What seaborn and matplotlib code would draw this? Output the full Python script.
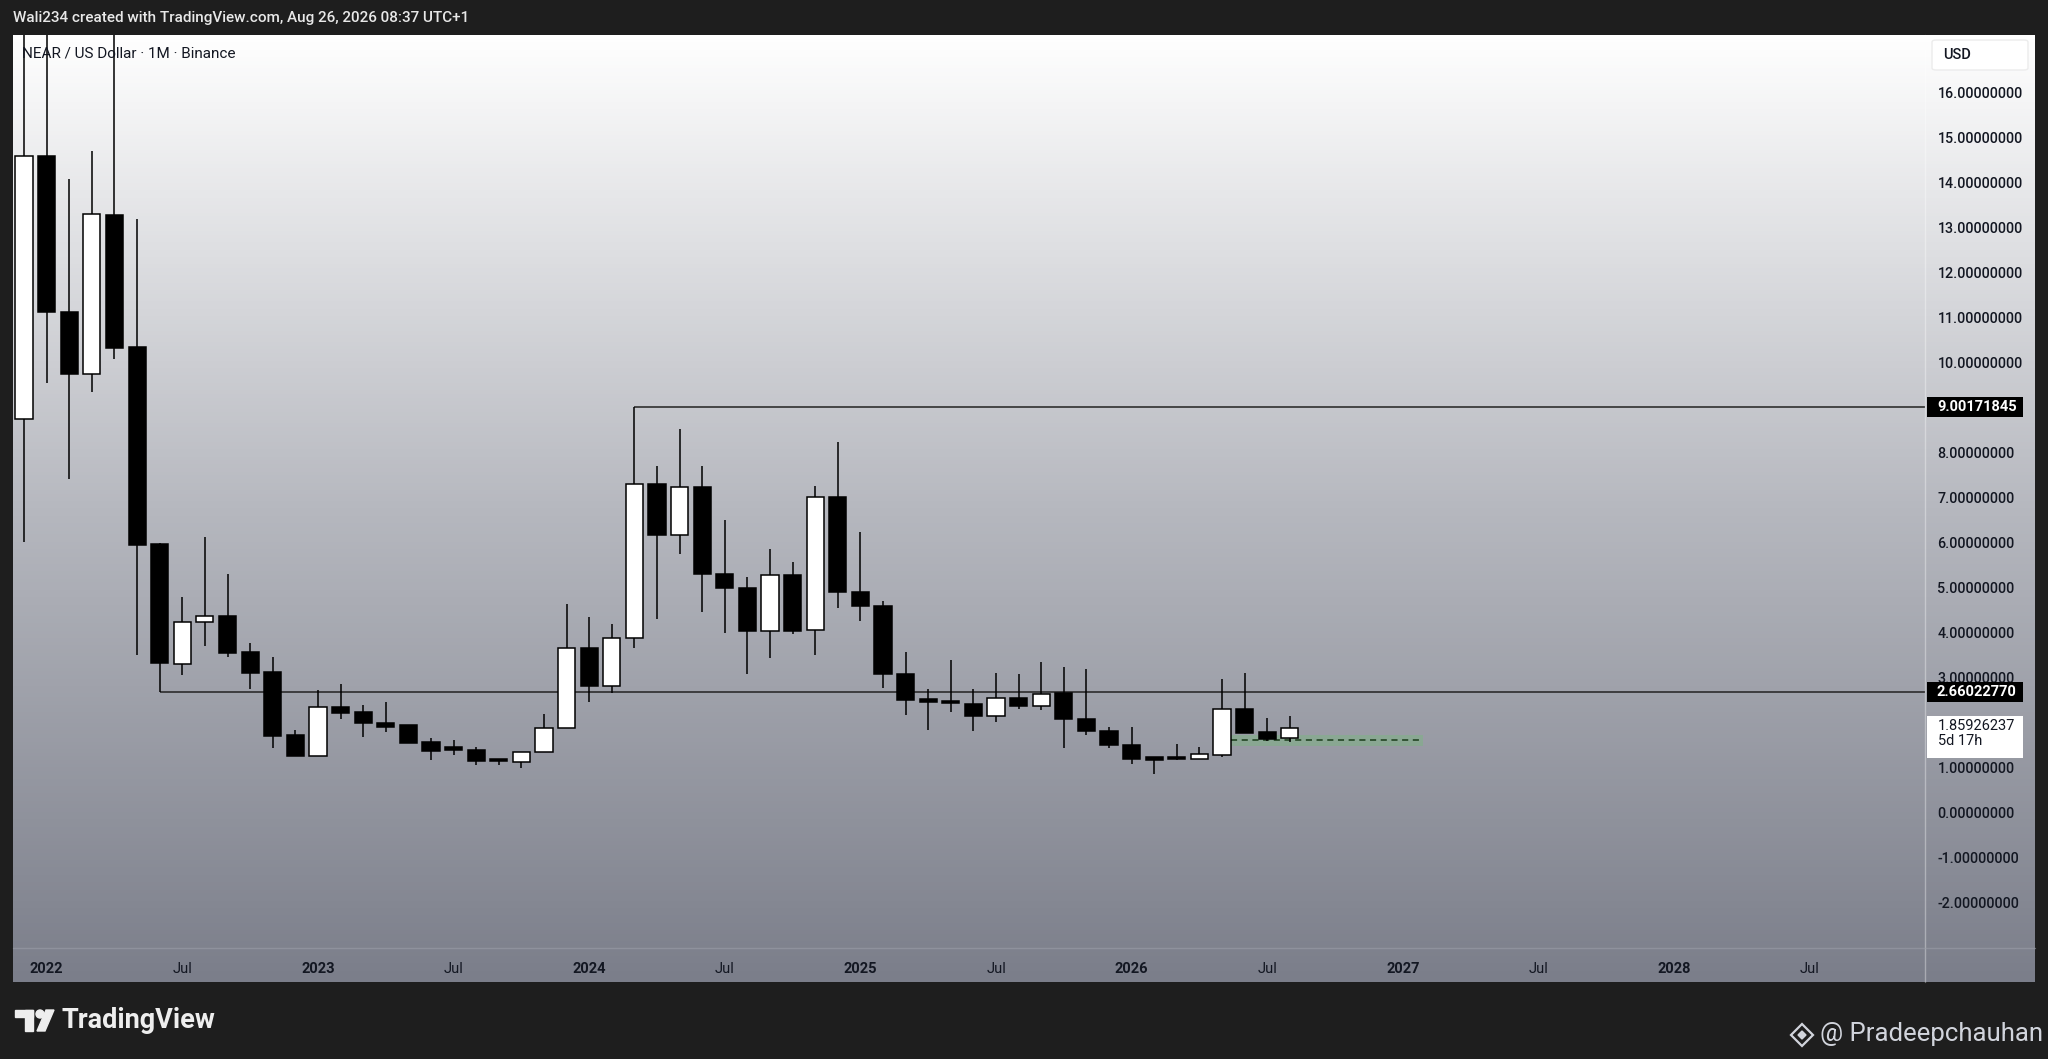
import numpy as np
import pandas as pd
import matplotlib
matplotlib.use("Agg")
import matplotlib.pyplot as plt
import matplotlib.patches as mpatches
from matplotlib.colors import LinearSegmentedColormap
import matplotlib.transforms as mtransforms
import seaborn as sns

# ---------------------------------------------------------------
# Monthly NEAR/USD candles, Dec 2021 .. Aug 2026
# ---------------------------------------------------------------
months = pd.date_range("2021-12-01", periods=57, freq="MS").strftime("%Y-%m").tolist()
opens = [8.73, 14.60, 11.13, 9.75, 13.27, 10.34, 5.96, 3.30, 4.22, 4.36, 3.55, 3.11,
         1.71, 1.25, 2.33, 2.22, 1.99, 1.93, 1.56, 1.39, 1.38, 1.14, 1.12, 1.33,
         1.87, 3.64, 2.81, 3.87, 7.29, 6.17, 7.23, 5.30, 4.98, 4.03, 5.28, 4.04,
         7.01, 4.89, 4.58, 3.06, 2.50, 2.47, 2.40, 2.13, 2.53, 2.36, 2.64, 2.08,
         1.80, 1.50, 1.21, 1.18, 1.17, 1.28, 2.30, 1.78, 1.65]
highs = [20.5, 20.4, 14.07, 14.70, 18.0, 13.18, 5.99, 4.79, 6.12, 5.29, 3.76, 3.44,
         1.82, 2.71, 2.85, 2.38, 2.44, 1.93, 1.65, 1.60, 1.44, 1.19, 1.33, 2.19,
         4.62, 4.33, 4.19, 9.00, 7.69, 8.51, 7.69, 6.49, 5.23, 5.86, 5.57, 7.25,
         8.24, 6.22, 4.69, 3.55, 2.73, 3.38, 2.73, 3.10, 3.07, 3.34, 3.23, 3.19,
         1.90, 1.90, 1.21, 1.51, 1.45, 2.97, 3.10, 2.10, 2.14]
lows = [6.01, 9.55, 7.40, 9.34, 10.08, 3.49, 2.66, 3.04, 3.69, 3.44, 2.73, 1.42,
        1.24, 1.25, 2.08, 1.68, 1.79, 1.54, 1.16, 1.28, 1.04, 1.04, 0.99, 1.33,
        1.87, 2.45, 2.65, 3.64, 4.29, 5.73, 4.45, 3.99, 3.08, 3.43, 3.97, 3.49,
        4.54, 4.25, 2.75, 2.16, 1.82, 2.23, 1.80, 2.01, 2.30, 2.27, 1.42, 1.71,
        1.42, 1.08, 0.84, 1.16, 1.17, 1.23, 1.75, 1.58, 1.56]
closes = [14.58, 11.13, 9.75, 13.29, 10.33, 5.93, 3.31, 4.23, 4.36, 3.54, 3.09, 1.70,
          1.24, 2.33, 2.21, 1.99, 1.90, 1.54, 1.36, 1.38, 1.13, 1.13, 1.33, 1.87,
          3.64, 2.81, 3.87, 7.29, 6.17, 7.23, 5.29, 4.99, 4.03, 5.28, 4.03, 7.00,
          4.90, 4.59, 3.06, 2.49, 2.45, 2.42, 2.13, 2.53, 2.36, 2.62, 2.08, 1.80,
          1.49, 1.19, 1.16, 1.17, 1.30, 2.30, 1.75, 1.63, 1.86]

# horizontal levels and the drawn zone
level_hi, level_hi_start = 9.00171845, 27
level_lo, level_lo_start = 2.66022770, 6
last_price, countdown = 1.85926237, "5d 17h"
zone_lo, zone_mid, zone_hi = 1.47, 1.60, 1.71
zone_start, zone_end = 53.38, 61.9

# time axis labels (bar index -> label)
tick_pos = [1, 7, 13, 19, 25, 31, 37, 43, 49, 55, 61, 67, 73, 79]
tick_lab = ["2022", "Jul", "2023", "Jul", "2024", "Jul", "2025", "Jul",
            "2026", "Jul", "2027", "Jul", "2028", "Jul"]
# 2 and 9 sit under the price / level labels on the original
price_ticks = [-2, -1, 0, 1, 3, 4, 5, 6, 7, 8, 10, 11, 12, 13, 14, 15, 16]

df = pd.DataFrame({"month": months, "open": opens, "high": highs,
                   "low": lows, "close": closes})
df["x"] = np.arange(len(df))
df["bull"] = df["close"] >= df["open"]

# ---------------------------------------------------------------
# Figure
# ---------------------------------------------------------------
sns.set_style("white")
plt.rcParams["font.family"] = ["Roboto", "DejaVu Sans"]

W, H = 2048, 1059
fig = plt.figure(figsize=(W / 100, H / 100), dpi=100)
fig.patch.set_facecolor("#1e1e1e")


def fx(px):
    return px / W


def fy(py):
    return 1 - py / H


# gradient panel behind the chart
bg = fig.add_axes([fx(13), fy(982), fx(2022), 947 / H], zorder=0)
cmap = LinearSegmentedColormap.from_list("tv", ["#ffffff", "#b6b8bf", "#7b7e8a"])
bg.imshow(np.linspace(0, 1, 256).reshape(-1, 1), aspect="auto", cmap=cmap,
          extent=[0, 1, 0, 1], origin="upper")
bg.set_axis_off()

ax = fig.add_axes([fx(13), fy(947), fx(1912), 912 / H], zorder=1)
ax.patch.set_alpha(0)
ax.set_xlim(-0.49, 84.1)
ax.set_ylim(-3.0, 17.28)

# wicks
ax.vlines(df["x"], df["low"], df["high"], color="black", linewidth=1.1, zorder=2)
# bodies
body_h = (df["close"] - df["open"]).abs().clip(lower=0.06)
body_b = df[["open", "close"]].min(axis=1)
ax.bar(df["x"], body_h, bottom=body_b, width=0.76,
       color=np.where(df["bull"], "white", "black"),
       edgecolor="black", linewidth=1.1, zorder=3)

# levels
ax.hlines(level_hi, level_hi_start, 84.1, color="#222222", linewidth=1.1, zorder=1.5)
ax.hlines(level_lo, level_lo_start, 84.1, color="#222222", linewidth=1.1, zorder=1.5)

# green zone with dashed midline
ax.fill_between([zone_start, zone_end], zone_lo, zone_hi, color="#6fbf73",
                alpha=0.35, linewidth=0, zorder=1.6)
ax.hlines(zone_mid, zone_start, zone_end, color="#1a3d1a", linewidth=1.1,
          linestyles=(0, (4, 3)), zorder=1.7)

# axes styling
for s in ax.spines.values():
    s.set_visible(False)
ax.yaxis.tick_right()
ax.set_yticks(price_ticks)
ax.set_yticklabels([f"{v:.8f}" for v in price_ticks])
ax.tick_params(axis="y", length=0, pad=9, labelsize=10.3, labelcolor="#131722")
ax.set_xticks(tick_pos)
ax.set_xticklabels(tick_lab)
ax.tick_params(axis="x", length=0, pad=11, labelsize=10.5, labelcolor="#131722")
for lab in ax.get_xticklabels():
    if lab.get_text().isdigit():
        lab.set_fontweight("bold")
for lab in ax.get_yticklabels():
    lab.set_fontweight("medium")
ax.grid(False)

# price axis separator and time axis separator
fig.add_artist(plt.Line2D([fx(1925), fx(1925)], [fy(35), fy(982)],
                          color="#ffffff", alpha=0.35, linewidth=1))
fig.add_artist(plt.Line2D([fx(13), fx(2035)], [fy(948), fy(948)],
                          color="#9a9da8", alpha=0.6, linewidth=1))

# level labels on the price axis (black boxes)
trans = mtransforms.blended_transform_factory(ax.transAxes, ax.transData)
box_x0 = (1927 - 13) / 1912
box_w = 96 / 1912
box_h = 20 / 44.96
for lv in (level_hi, level_lo):
    ax.add_patch(mpatches.Rectangle((box_x0, lv - box_h / 2), box_w, box_h,
                                    transform=trans, facecolor="black",
                                    edgecolor="none", clip_on=False, zorder=6))
    ax.text((1937 - 13) / 1912, lv, f"{lv:.8f}", transform=trans, ha="left",
            va="center", fontsize=10.5, color="white", fontweight="bold",
            clip_on=False, zorder=7)

# last price box (white)
lp_top = (812 - 716) / 44.96
lp_bot = (812 - 758) / 44.96
ax.add_patch(mpatches.Rectangle((box_x0, lp_bot), box_w,
                                lp_top - lp_bot, transform=trans,
                                facecolor="white", edgecolor="none",
                                clip_on=False, zorder=6))
ax.text((1938 - 13) / 1912, lp_top - 0.06, f"{last_price:.8f}\n{countdown}",
        transform=trans, ha="left", va="top", fontsize=10.5, color="#131722",
        linespacing=1.15, clip_on=False, zorder=7)

# USD box
fig.add_artist(mpatches.FancyBboxPatch((fx(1932), fy(70)), fx(96), 30 / H,
                                       boxstyle="round,pad=0,rounding_size=0.002",
                                       facecolor="white", edgecolor="#ececec",
                                       transform=fig.transFigure))
fig.text(fx(1943), fy(55), "USD", ha="left", va="center", fontsize=10.5,
         color="#131722", fontweight="medium")

# header texts
fig.text(fx(13), fy(18), "Wali234 created with TradingView.com, Aug 26, 2026 08:37 UTC+1",
         ha="left", va="center", fontsize=11, color="#e8e8e8", fontweight="medium")
fig.text(fx(22), fy(53), "NEAR / US Dollar \u00b7 1M \u00b7 Binance",
         ha="left", va="center", fontsize=11, color="#131722")

# footer: TradingView logo
logo_c = "#eeeeee"
fig.add_artist(mpatches.Rectangle((fx(15), fy(1017)), fx(18), 7 / H,
                                  color=logo_c, transform=fig.transFigure))
fig.add_artist(mpatches.Rectangle((fx(25), fy(1031)), fx(8), 21 / H,
                                  color=logo_c, transform=fig.transFigure))
fig.add_artist(mpatches.Ellipse((fx(40), fy(1014)), fx(8), 8 / H,
                                color=logo_c, transform=fig.transFigure))
fig.add_artist(mpatches.Polygon([(fx(46), fy(1010)), (fx(54), fy(1010)),
                                 (fx(45), fy(1031)), (fx(37), fy(1031))],
                                color=logo_c, transform=fig.transFigure))
fig.text(fx(61), fy(1021), "TradingView", ha="left", va="center", fontsize=19.5,
         fontweight="bold", color=logo_c)

# footer: watermark
cx, cy, r = 1802, 1035, 11
fig.add_artist(mpatches.Polygon([(fx(cx), fy(cy - r)), (fx(cx + r), fy(cy)),
                                 (fx(cx), fy(cy + r)), (fx(cx - r), fy(cy))],
                                closed=True, fill=False, edgecolor="#d1d4dc",
                                linewidth=1.6, transform=fig.transFigure))
fig.add_artist(mpatches.Polygon([(fx(cx), fy(cy - 4)), (fx(cx + 4), fy(cy)),
                                 (fx(cx), fy(cy + 4)), (fx(cx - 4), fy(cy))],
                                closed=True, color="#d1d4dc", transform=fig.transFigure))
fig.text(fx(1820), fy(1034), "@ Pradeepchauhan", ha="left", va="center",
         fontsize=18.5, color="#d1d4dc")

fig.savefig("out.png", dpi=100, facecolor=fig.get_facecolor())
